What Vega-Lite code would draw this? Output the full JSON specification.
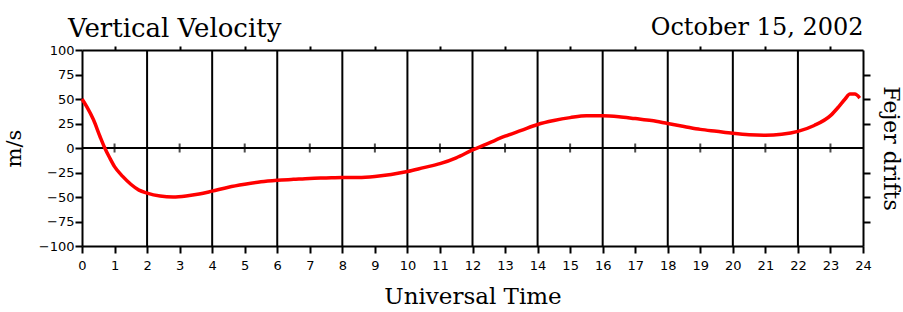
{
  "$schema": "https://vega.github.io/schema/vega-lite/v6.json",
  "width": 781,
  "height": 196,
  "autosize": {"type": "none"},
  "padding": {"left": 82, "top": 50, "right": 40, "bottom": 66},
  "background": "white",
  "title": {"text": "Vertical Velocity", "anchor": "start", "frame": "group", "dx": -14, "offset": -27, "font": "DejaVu Serif", "fontSize": 26, "fontWeight": "normal", "color": "black"},
  "datasets": {
    "curve": [
      {"hour": 0, "velocity": 50}, {"hour": 0.15, "velocity": 42}, {"hour": 0.35, "velocity": 29},
      {"hour": 0.55, "velocity": 12}, {"hour": 0.7, "velocity": 0}, {"hour": 0.85, "velocity": -10},
      {"hour": 1.0, "velocity": -19}, {"hour": 1.25, "velocity": -29}, {"hour": 1.5, "velocity": -37},
      {"hour": 1.75, "velocity": -43}, {"hour": 2.0, "velocity": -46}, {"hour": 2.4, "velocity": -49},
      {"hour": 2.8, "velocity": -50}, {"hour": 3.2, "velocity": -49}, {"hour": 3.6, "velocity": -47},
      {"hour": 4.0, "velocity": -44}, {"hour": 4.5, "velocity": -40}, {"hour": 5.0, "velocity": -37},
      {"hour": 5.5, "velocity": -34.5}, {"hour": 6.0, "velocity": -33}, {"hour": 6.5, "velocity": -32},
      {"hour": 7.0, "velocity": -31}, {"hour": 7.5, "velocity": -30.5}, {"hour": 8.0, "velocity": -30},
      {"hour": 8.5, "velocity": -30}, {"hour": 9.0, "velocity": -29}, {"hour": 9.5, "velocity": -27},
      {"hour": 10.0, "velocity": -24}, {"hour": 10.5, "velocity": -20}, {"hour": 11.0, "velocity": -16},
      {"hour": 11.5, "velocity": -10}, {"hour": 12.0, "velocity": -2}, {"hour": 12.5, "velocity": 5},
      {"hour": 13.0, "velocity": 12}, {"hour": 13.5, "velocity": 18}, {"hour": 14.0, "velocity": 24},
      {"hour": 14.5, "velocity": 28}, {"hour": 15.0, "velocity": 31}, {"hour": 15.5, "velocity": 33},
      {"hour": 16.0, "velocity": 33}, {"hour": 16.5, "velocity": 32}, {"hour": 17.0, "velocity": 30},
      {"hour": 17.5, "velocity": 28}, {"hour": 18.0, "velocity": 25}, {"hour": 18.5, "velocity": 22},
      {"hour": 19.0, "velocity": 19}, {"hour": 19.5, "velocity": 17}, {"hour": 20.0, "velocity": 15},
      {"hour": 20.5, "velocity": 13.5}, {"hour": 21.0, "velocity": 13}, {"hour": 21.5, "velocity": 14},
      {"hour": 22.0, "velocity": 17}, {"hour": 22.5, "velocity": 23}, {"hour": 23.0, "velocity": 33},
      {"hour": 23.25, "velocity": 42}, {"hour": 23.45, "velocity": 50}, {"hour": 23.6, "velocity": 55},
      {"hour": 23.75, "velocity": 55}, {"hour": 23.9, "velocity": 51}
    ],
    "even": [
      {"hour": 2}, {"hour": 4}, {"hour": 6}, {"hour": 8}, {"hour": 10}, {"hour": 12},
      {"hour": 14}, {"hour": 16}, {"hour": 18}, {"hour": 20}, {"hour": 22}
    ],
    "odd": [
      {"hour": 1, "velocity": 0}, {"hour": 3, "velocity": 0}, {"hour": 5, "velocity": 0}, {"hour": 7, "velocity": 0},
      {"hour": 9, "velocity": 0}, {"hour": 11, "velocity": 0}, {"hour": 13, "velocity": 0}, {"hour": 15, "velocity": 0},
      {"hour": 17, "velocity": 0}, {"hour": 19, "velocity": 0}, {"hour": 21, "velocity": 0}, {"hour": 23, "velocity": 0}
    ],
    "zero": [{"velocity": 0}]
  },
  "resolve": {"axis": {"x": "independent", "y": "independent"}},
  "layer": [
    {
      "data": {"name": "even"},
      "mark": {"type": "rule", "color": "black", "strokeWidth": 2},
      "encoding": {
        "x": {"field": "hour", "type": "quantitative", "scale": {"domain": [0, 24], "nice": false, "zero": false}, "axis": null}
      }
    },
    {
      "data": {"name": "zero"},
      "mark": {"type": "rule", "color": "black", "strokeWidth": 2},
      "encoding": {
        "y": {"field": "velocity", "type": "quantitative", "scale": {"domain": [-100, 100], "nice": false}, "axis": null}
      }
    },
    {
      "data": {"name": "odd"},
      "mark": {"type": "tick", "orient": "vertical", "color": "black", "size": 9, "thickness": 2},
      "encoding": {
        "x": {"field": "hour", "type": "quantitative", "scale": {"domain": [0, 24], "nice": false, "zero": false},
          "axis": {"orient": "top", "values": [1, 3, 5, 7, 9, 11, 13, 15, 17, 19, 21, 23], "labels": false, "ticks": true, "tickSize": 4, "tickColor": "black", "tickWidth": 2, "domainColor": "black", "domainWidth": 2, "grid": false,
            "title": "October 15, 2002", "titleAnchor": "end", "titleFont": "DejaVu Serif", "titleFontSize": 24, "titleFontWeight": "normal", "titleColor": "black", "titlePadding": 6}},
        "y": {"field": "velocity", "type": "quantitative", "scale": {"domain": [-100, 100], "nice": false},
          "axis": {"orient": "right", "values": [-75, -50, -25, 25, 50, 75], "labels": false, "tickSize": 7, "tickColor": "black", "tickWidth": 2, "domainColor": "black", "domainWidth": 2, "grid": false,
            "title": "Fejer drifts", "titleAngle": 90, "titleFont": "DejaVu Serif", "titleFontSize": 22, "titleFontWeight": "normal", "titleColor": "black", "titlePadding": 7, "titleBaseline": "bottom"}}
      }
    },
    {
      "data": {"name": "curve"},
      "mark": {"type": "line", "color": "#ff0000", "strokeWidth": 3.5, "interpolate": "monotone"},
      "encoding": {
        "x": {"field": "hour", "type": "quantitative", "scale": {"domain": [0, 24], "nice": false, "zero": false},
          "axis": {"orient": "bottom", "values": [0,1,2,3,4,5,6,7,8,9,10,11,12,13,14,15,16,17,18,19,20,21,22,23,24], "format": "d", "labelFont": "DejaVu Sans", "labelFontSize": 13, "labelColor": "black", "labelPadding": 6, "labelFlush": false, "labelOverlap": false, "tickSize": 7, "tickColor": "black", "tickWidth": 2, "domainColor": "black", "domainWidth": 2, "grid": false,
            "title": "Universal Time", "titleFont": "DejaVu Serif", "titleFontSize": 23, "titleFontWeight": "normal", "titleColor": "black", "titlePadding": 13}},
        "y": {"field": "velocity", "type": "quantitative", "scale": {"domain": [-100, 100], "nice": false},
          "axis": {"orient": "left", "values": [-100, -75, -50, -25, 0, 25, 50, 75, 100], "labelFont": "DejaVu Sans", "labelFontSize": 13, "labelColor": "black", "labelPadding": 1, "labelFlush": false, "labelOverlap": false, "tickSize": 7, "tickColor": "black", "tickWidth": 2, "domainColor": "black", "domainWidth": 2, "grid": false,
            "title": "m/s", "titleFont": "DejaVu Serif", "titleFontSize": 21, "titleFontWeight": "normal", "titleColor": "black", "titlePadding": 14}}
      }
    }
  ]
}
